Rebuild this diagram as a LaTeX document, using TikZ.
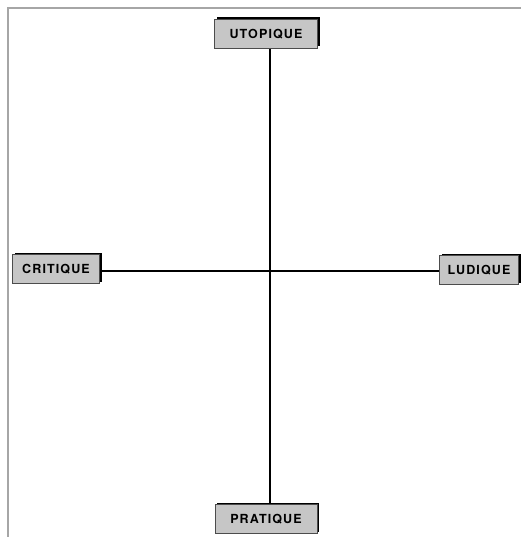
\documentclass[tikz,border=0pt]{standalone}
\usepackage{fontspec}
\usepackage{tikz}
\usetikzlibrary{shadows}
\newfontfamily\axisfont[LetterSpace=9]{TeX Gyre Heros}

\begin{document}
\begin{tikzpicture}[x=1pt,y=-1pt,
  every node/.style={font=\axisfont\bfseries\fontsize{12.5}{14}\selectfont},
  polebox/.style={fill=gray!45,draw=black!70,line width=0.6pt,
    minimum height=29pt,inner xsep=3pt,
    drop shadow={shadow xshift=2pt,shadow yshift=2pt,fill=black,opacity=1}}]
\useasboundingbox (0,0) rectangle (521,537);
% cadre
\draw[gray!70,line width=1.5pt] (8,537) -- (8,8) -- (521,8);
% les quatre poles
\node[polebox,minimum width=103pt] (uto) at (266,34) {UTOPIQUE};
\node[polebox,minimum width=87pt] (cri) at (56,269) {CRITIQUE};
\node[polebox,minimum width=79pt] (lud) at (479,270) {LUDIQUE};
\node[polebox,minimum width=102pt] (pra) at (266,519) {PRATIQUE};
\coordinate (c) at (270,271);
% axes
\draw[line width=1.5pt] (uto.south -| c) -- (pra.north -| c);
\draw[line width=1.5pt] (cri.east |- c) -- (lud.west |- c);
\end{tikzpicture}
\end{document}
